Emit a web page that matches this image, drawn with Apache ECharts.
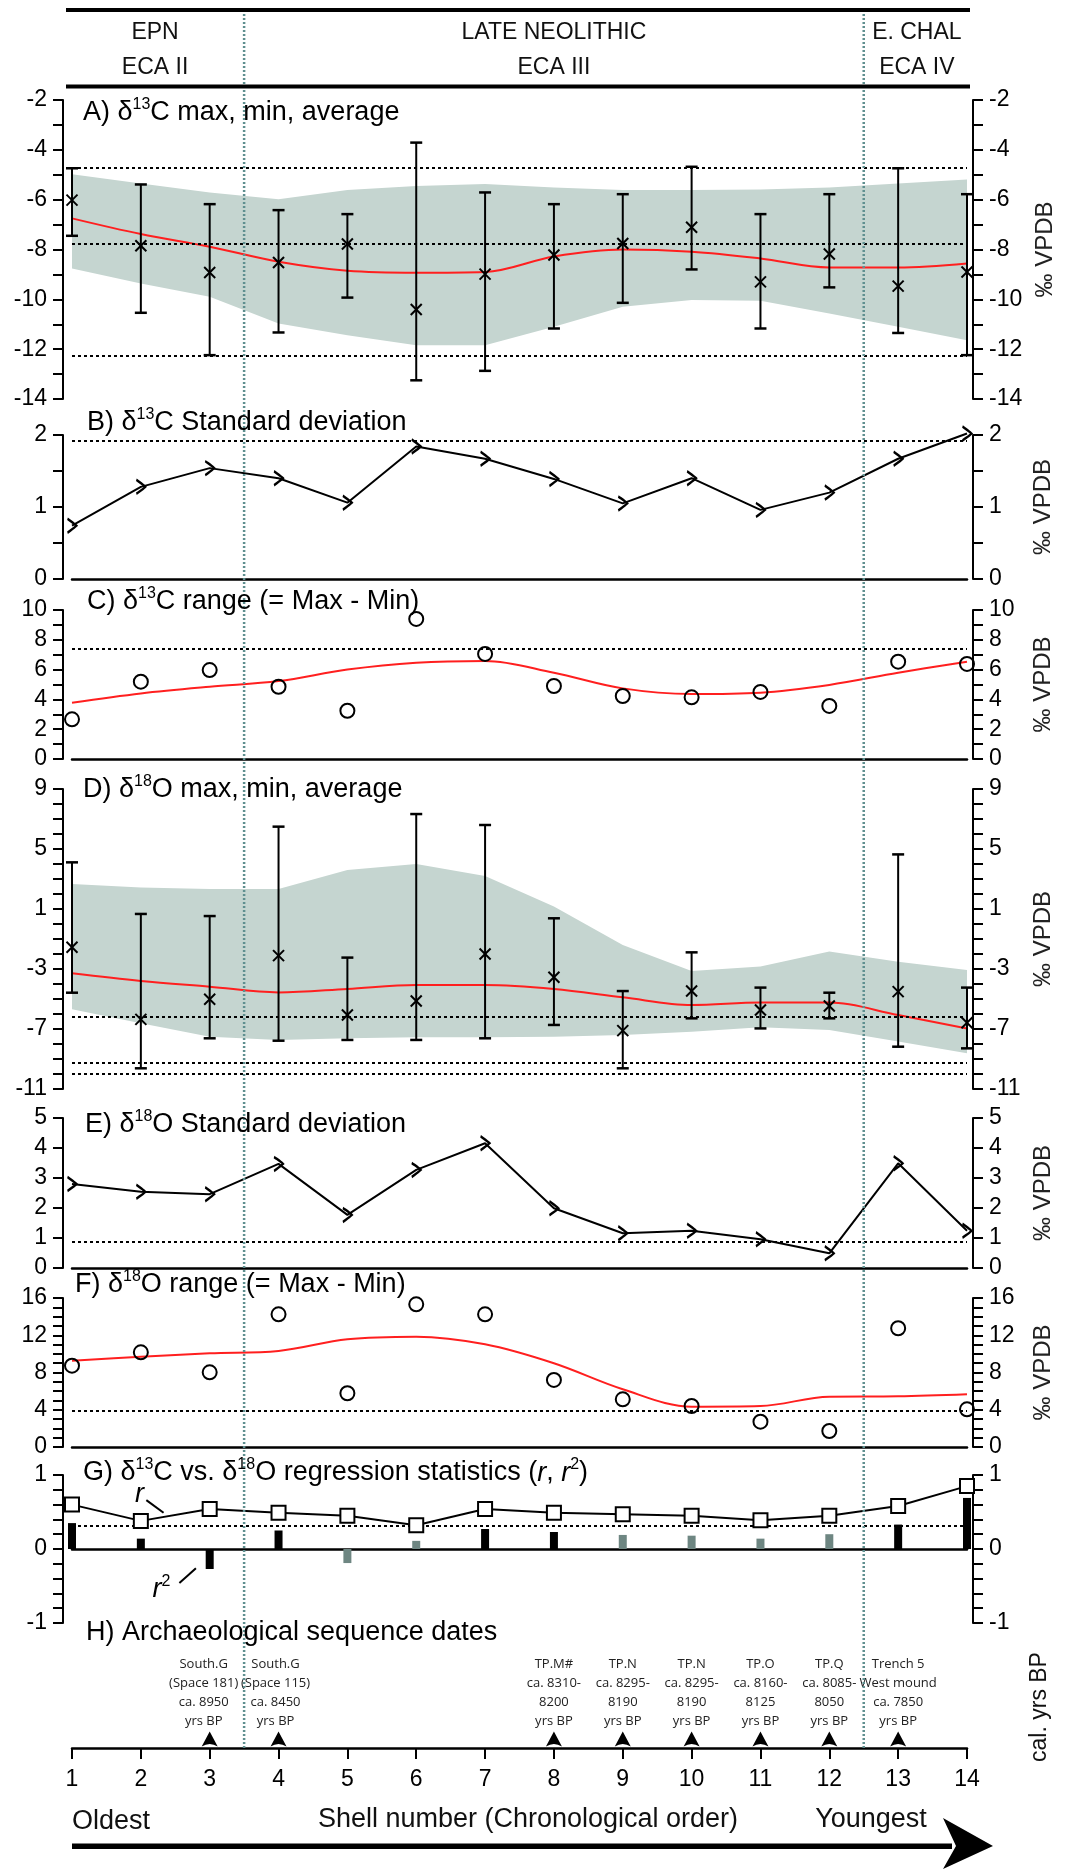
<!DOCTYPE html>
<html>
<head>
<meta charset="utf-8">
<script src="https://cdn.jsdelivr.net/npm/echarts@6/dist/echarts.min.js"></script>
<style>
  html, body { margin: 0; padding: 0; background: #fff; }
  #chart { width: 1067px; height: 1870px; }
</style>
</head>
<body>
<div id="chart"></div>
<script>
// shell numbers, oldest to youngest
var shells = [1, 2, 3, 4, 5, 6, 7, 8, 9, 10, 11, 12, 13, 14];

// A) d13C max / min / average
var c13Max = [-4.74, -5.39, -6.18, -6.42, -6.58, -3.71, -5.71, -6.18, -5.78, -4.68, -6.58, -5.78, -4.74, -5.78];
var c13Min = [-7.45, -10.54, -12.24, -11.33, -9.93, -13.25, -12.87, -11.17, -10.14, -8.80, -11.17, -9.52, -11.35, -12.24];
var c13Mean = [-6.02, -7.85, -8.92, -8.52, -7.78, -10.41, -8.99, -8.22, -7.76, -7.11, -9.30, -8.18, -9.47, -8.90];
var c13Trend = [-6.75, -7.38, -7.89, -8.49, -8.85, -8.93, -8.90, -8.28, -8.00, -8.09, -8.36, -8.72, -8.72, -8.56];
var c13BandHi = [-4.98, -5.35, -5.71, -5.98, -5.61, -5.45, -5.37, -5.51, -5.61, -5.61, -5.59, -5.51, -5.35, -5.19];
var c13BandLo = [-8.76, -9.36, -9.90, -10.97, -11.44, -11.84, -11.84, -11.10, -10.30, -10.03, -10.06, -10.57, -11.10, -11.64];
var c13Ref = [-4.72, -7.77, -12.26];

// B) d13C standard deviation
var c13Sd = [0.74, 1.28, 1.54, 1.40, 1.06, 1.84, 1.67, 1.39, 1.05, 1.40, 0.96, 1.20, 1.67, 2.02];
var c13SdRef = [1.92];

// C) d13C range
var c13Range = [2.66, 5.19, 5.97, 4.85, 3.24, 9.40, 7.05, 4.90, 4.23, 4.14, 4.50, 3.56, 6.53, 6.38];
var c13RangeTrend = [3.78, 4.40, 4.85, 5.23, 6.00, 6.46, 6.58, 5.79, 4.74, 4.36, 4.45, 4.97, 5.79, 6.53];
var c13RangeRef = [7.38];

// D) d18O max / min / average
var o18Max = [4.11, 0.67, 0.53, 6.49, -2.24, 7.33, 6.60, 0.38, -4.47, -1.89, -4.24, -4.58, 4.64, -4.24];
var o18Min = [-4.58, -9.62, -7.62, -7.78, -7.73, -7.73, -7.62, -6.73, -9.62, -6.29, -6.96, -6.29, -8.18, -8.29];
var o18Mean = [-1.55, -6.36, -5.02, -2.11, -6.07, -5.13, -2.00, -3.55, -7.11, -4.47, -5.73, -5.47, -4.51, -6.58];
var o18Trend = [-3.29, -3.80, -4.18, -4.56, -4.33, -4.07, -4.07, -4.33, -4.89, -5.40, -5.24, -5.24, -6.07, -6.96];
var o18BandHi = [2.67, 2.44, 2.33, 2.33, 3.60, 4.00, 3.20, 1.16, -1.40, -3.13, -2.84, -1.84, -2.51, -3.07];
var o18BandLo = [-5.69, -6.62, -7.51, -7.73, -7.62, -7.55, -7.55, -7.51, -7.40, -7.18, -6.89, -7.07, -7.84, -8.62];
var o18Ref = [-6.18, -9.24, -10.0];

// E) d18O standard deviation
var o18Sd = [2.80, 2.54, 2.46, 3.47, 1.77, 3.27, 4.16, 1.99, 1.16, 1.24, 0.96, 0.49, 3.49, 1.24];
var o18SdRef = [0.87];

// F) d18O range
var o18Range = [8.73, 10.17, 8.02, 14.25, 5.77, 15.32, 14.25, 7.20, 5.12, 4.40, 2.72, 1.72, 12.75, 4.05];
var o18RangeTrend = [9.27, 9.70, 10.06, 10.31, 11.57, 11.85, 11.03, 8.99, 6.20, 4.33, 4.40, 5.40, 5.44, 5.66];
var o18RangeRef = [3.9];

// G) regression r and r2 (1 = significant, black bar)
var regR = [0.60, 0.38, 0.54, 0.49, 0.45, 0.32, 0.54, 0.49, 0.47, 0.45, 0.39, 0.45, 0.58, 0.85];
var regR2 = [0.35, 0.14, -0.27, 0.25, -0.19, 0.11, 0.27, 0.23, 0.19, 0.18, 0.14, 0.20, 0.33, 0.69];
var regSig = [1, 1, 1, 1, 0, 0, 1, 1, 0, 0, 0, 0, 1, 1];
var regRef = [0.32];

// H) archaeological dates
var dateShells = [3, 4, 8, 9, 10, 11, 12, 13];
var dateLabels = [
  ['South.G', '(Space 181)', 'ca. 8950', 'yrs BP'],
  ['South.G', '(Space 115)', 'ca. 8450', 'yrs BP'],
  ['TP.M#', 'ca. 8310-', '8200', 'yrs BP'],
  ['TP.N', 'ca. 8295-', '8190', 'yrs BP'],
  ['TP.N', 'ca. 8295-', '8190', 'yrs BP'],
  ['TP.O', 'ca. 8160-', '8125', 'yrs BP'],
  ['TP.Q', 'ca. 8085-', '8050', 'yrs BP'],
  ['Trench 5', 'West mound', 'ca. 7850', 'yrs BP']
];

// periods
var periodNames = ['EPN', 'LATE NEOLITHIC', 'E. CHAL'];
var periodEca = ['ECA II', 'ECA III', 'ECA IV'];
var periodBreaks = [3.5, 12.5];

var FONT = "'Liberation Sans', Arial, sans-serif";
var BAND = '#c5d5d0';
var RED = '#ff1f1f';
var DIV = '#5f8f8f';

var panels = [
  { top: 100, height: 299, min: -14, max: -2, interval: 2, minor: 2, vpdb: true, line: false },
  { top: 435, height: 144, min: 0, max: 2, interval: 1, minor: 2, vpdb: true, line: true },
  { top: 610, height: 149, min: 0, max: 10, interval: 2, minor: 2, vpdb: true, line: true },
  { top: 789, height: 300, min: -11, max: 9, interval: 4, minor: 4, vpdb: true, line: false },
  { top: 1118, height: 150, min: 0, max: 5, interval: 1, minor: 0, vpdb: true, line: true },
  { top: 1298, height: 149, min: 0, max: 16, interval: 4, minor: 4, vpdb: true, line: true },
  { top: 1475, height: 148, min: -1, max: 1, interval: 1, minor: 5, vpdb: false, line: true },
  { top: 1660, height: 88, min: 0, max: 1, hidden: true }
];

function pairs(ys) {
  return shells.map(function (s, k) { return [s, ys[k]]; });
}

function refLines(vals) {
  return {
    silent: true,
    symbol: 'none',
    label: { show: false },
    lineStyle: { color: '#000', type: [3, 3], width: 2 },
    data: vals.map(function (v) { return { yAxis: v }; })
  };
}

var grid = [], xAxis = [], yAxis = [];
panels.forEach(function (p, i) {
  grid.push({ left: 72, width: 895, top: p.top, height: p.height });
  var isH = i === 7;
  xAxis.push({
    gridIndex: i, type: 'value', min: 1, max: 14, interval: 1,
    show: isH || p.line,
    axisLine: { show: true, onZero: i === 6, lineStyle: { color: '#000', width: 2.5 } },
    axisTick: { show: isH, length: 11, lineStyle: { color: '#000', width: 2 } },
    axisLabel: { show: isH, margin: 20, fontSize: 23, fontFamily: FONT, color: '#000' },
    splitLine: { show: false }
  });
  ['left', 'right'].forEach(function (side) {
    yAxis.push({
      gridIndex: i, type: 'value', position: side, show: !p.hidden,
      offset: side === 'left' ? 9 : 6,
      min: p.min, max: p.max, interval: p.interval,
      axisLine: { show: true, onZero: false, lineStyle: { color: '#000', width: 2 } },
      axisTick: { show: true, length: 10, lineStyle: { color: '#000', width: 2 } },
      minorTick: { show: p.minor > 0, splitNumber: p.minor || 5, length: 10, lineStyle: { color: '#000', width: 2 } },
      axisLabel: { margin: 16, fontSize: 23, fontFamily: FONT, color: '#000' },
      splitLine: { show: false },
      minorSplitLine: { show: false },
      name: side === 'right' && p.vpdb ? '‰ VPDB' : '',
      nameLocation: 'middle', nameRotate: 90, nameGap: 58,
      nameTextStyle: { fontSize: 24, fontFamily: FONT, color: '#222' }
    });
  });
});

function bandSeries(i, hi, lo) {
  return {
    type: 'custom', xAxisIndex: i, yAxisIndex: 2 * i, z: 1, silent: true,
    data: shells.map(function (s, k) { return [s, lo[k], hi[k]]; }),
    encode: { x: 0, y: [1, 2] },
    renderItem: function (params, api) {
      if (params.dataIndex !== 0) return null;
      var pts = [];
      for (var k = 0; k < shells.length; k++) pts.push(api.coord([shells[k], hi[k]]));
      for (var j = shells.length - 1; j >= 0; j--) pts.push(api.coord([shells[j], lo[j]]));
      return { type: 'polygon', shape: { points: pts }, style: { fill: BAND } };
    }
  };
}

function errorSeries(i, mx, mn, mean) {
  return {
    type: 'custom', xAxisIndex: i, yAxisIndex: 2 * i, z: 5, silent: true,
    data: shells.map(function (s, k) { return [s, mn[k], mx[k], mean[k]]; }),
    encode: { x: 0, y: [1, 2, 3] },
    renderItem: function (params, api) {
      var x = api.value(0);
      var t = api.coord([x, api.value(2)]);
      var b = api.coord([x, api.value(1)]);
      var m = api.coord([x, api.value(3)]);
      var st = { stroke: '#000', lineWidth: 2 };
      var cap = { stroke: '#000', lineWidth: 2.5 };
      var c = 6, r = 5.5;
      return {
        type: 'group',
        children: [
          { type: 'line', shape: { x1: t[0], y1: t[1], x2: b[0], y2: b[1] }, style: st },
          { type: 'line', shape: { x1: t[0] - c, y1: t[1], x2: t[0] + c, y2: t[1] }, style: cap },
          { type: 'line', shape: { x1: b[0] - c, y1: b[1], x2: b[0] + c, y2: b[1] }, style: cap },
          { type: 'line', shape: { x1: m[0] - r, y1: m[1] - r, x2: m[0] + r, y2: m[1] + r }, style: st },
          { type: 'line', shape: { x1: m[0] - r, y1: m[1] + r, x2: m[0] + r, y2: m[1] - r }, style: st }
        ]
      };
    }
  };
}

function trendSeries(i, ys, refs) {
  return {
    type: 'line', xAxisIndex: i, yAxisIndex: 2 * i, data: pairs(ys), z: 3,
    smooth: 0.35, symbol: 'none', clip: false, silent: true,
    lineStyle: { color: RED, width: 2 },
    markLine: refLines(refs)
  };
}

var chevron = 'path://M0,0 C4,3 7,5 9,7 C7,9 4,11 0,14';
function sdSeries(i, ys, refs) {
  return {
    type: 'line', xAxisIndex: i, yAxisIndex: 2 * i, data: pairs(ys), z: 4,
    symbol: chevron, symbolSize: [9, 14], showAllSymbol: true, clip: false, silent: true,
    lineStyle: { color: '#000', width: 2 },
    itemStyle: { color: 'rgba(0,0,0,0)', borderColor: '#000', borderWidth: 2.2, opacity: 1 },
    markLine: refLines(refs)
  };
}

function circleSeries(i, ys) {
  return {
    type: 'scatter', xAxisIndex: i, yAxisIndex: 2 * i, data: pairs(ys), z: 4,
    symbol: 'circle', symbolSize: 14, clip: false, silent: true,
    itemStyle: { color: 'rgba(0,0,0,0)', borderColor: '#000', borderWidth: 2, opacity: 1 }
  };
}

var stealth = 'path://M8,0 L16,15 Q8,10 0,15 Z';
// nudge the two crowded South.G labels apart a little
var dateLabelShift = { 0: [-6, 0], 1: [-3, 0] };

var series = [
  bandSeries(0, c13BandHi, c13BandLo),
  trendSeries(0, c13Trend, c13Ref),
  errorSeries(0, c13Max, c13Min, c13Mean),

  sdSeries(1, c13Sd, c13SdRef),

  trendSeries(2, c13RangeTrend, c13RangeRef),
  circleSeries(2, c13Range),

  bandSeries(3, o18BandHi, o18BandLo),
  trendSeries(3, o18Trend, o18Ref),
  errorSeries(3, o18Max, o18Min, o18Mean),

  sdSeries(4, o18Sd, o18SdRef),

  trendSeries(5, o18RangeTrend, o18RangeRef),
  circleSeries(5, o18Range),

  {
    type: 'bar', xAxisIndex: 6, yAxisIndex: 12, barWidth: 8, clip: false, silent: true,
    data: shells.map(function (s, k) {
      return { value: [s, regR2[k]], itemStyle: { color: regSig[k] ? '#000' : '#6e8682' } };
    })
  },
  {
    type: 'line', xAxisIndex: 6, yAxisIndex: 12, data: pairs(regR), z: 5,
    symbol: 'rect', symbolSize: 14, showAllSymbol: true, clip: false, silent: true,
    lineStyle: { color: '#000', width: 2 },
    itemStyle: { color: '#fff', borderColor: '#000', borderWidth: 2, opacity: 1 },
    markLine: refLines(regRef)
  },

  {
    type: 'scatter', xAxisIndex: 7, yAxisIndex: 14, clip: false, silent: true,
    data: dateShells.map(function (s, k) {
      var item = { value: [s, 0] };
      if (dateLabelShift[k]) item.label = { offset: dateLabelShift[k] };
      return item;
    }),
    symbol: stealth, symbolSize: [16, 15], symbolOffset: [0, -9],
    itemStyle: { color: '#000', opacity: 1 },
    label: {
      show: true, position: 'top', distance: 1,
      formatter: function (p) { return dateLabels[p.dataIndex].join('\n'); },
      fontFamily: "'Open Sans', 'Noto Sans', sans-serif", fontSize: 13, lineHeight: 19, color: '#222'
    }
  }
];

var chart = echarts.init(document.getElementById('chart'));
chart.setOption({
  animation: false,
  backgroundColor: '#fff',
  textStyle: { fontFamily: FONT },
  grid: grid,
  xAxis: xAxis,
  yAxis: yAxis,
  series: series
});

function px(g, x, y) { return chart.convertToPixel({ gridIndex: g }, [x, y]); }

var rich = {
  n: { fontSize: 27, fontFamily: FONT, fill: '#000', lineHeight: 32 },
  s: { fontSize: 16, fontFamily: FONT, fill: '#000', lineHeight: 32, verticalAlign: 'top' },
  i: { fontSize: 27, fontFamily: FONT, fill: '#000', lineHeight: 32, fontStyle: 'italic' }
};
function title(x, y, text) {
  return { type: 'text', x: x, y: y, z: 20, style: { text: text, rich: rich, align: 'left', verticalAlign: 'middle' } };
}
function plain(x, y, text, size, align, rot) {
  return {
    type: 'text', x: x, y: y, z: 20, rotation: rot || 0,
    style: { text: text, fontSize: size, fontFamily: FONT, fill: '#111', align: align || 'center', verticalAlign: 'middle' }
  };
}

var g = [];
var left = 66, right = 970;
g.push({ type: 'rect', z: 20, shape: { x: left, y: 8, width: right - left, height: 4 }, style: { fill: '#000' } });
g.push({ type: 'rect', z: 20, shape: { x: left, y: 84.5, width: right - left, height: 4 }, style: { fill: '#000' } });

var hAxisY = px(7, 1, 0)[1];
var edges = [left].concat(periodBreaks.map(function (b) { return px(0, b, -2)[0]; })).concat([right]);
periodNames.forEach(function (name, k) {
  var cx = (edges[k] + edges[k + 1]) / 2;
  g.push(plain(cx, 33, name, 23));
  g.push(plain(cx, 68, periodEca[k], 23));
});
periodBreaks.forEach(function (b) {
  var x = px(0, b, -2)[0];
  g.push({
    type: 'line', z: 15, shape: { x1: x, y1: 10, x2: x, y2: hAxisY },
    style: { stroke: DIV, lineWidth: 2.5, lineDash: [2, 2] }
  });
});

g.push(title(83, 113, '{n|A) δ}{s|13}{n|C max, min, average}'));
g.push(title(87, 423, '{n|B) δ}{s|13}{n|C Standard deviation}'));
g.push(title(87, 602, '{n|C) δ}{s|13}{n|C range (= Max - Min)}'));
g.push(title(83, 790, '{n|D) δ}{s|18}{n|O max, min, average}'));
g.push(title(85, 1125, '{n|E) δ}{s|18}{n|O Standard deviation}'));
g.push(title(75, 1285, '{n|F) δ}{s|18}{n|O range (= Max - Min)}'));
g.push(title(83, 1473, '{n|G) δ}{s|13}{n|C vs. δ}{s|18}{n|O regression statistics (}{i|r}{n|, }{i|r}{s|2}{n|)}'));
g.push(title(86, 1633, '{n|H) Archaeological sequence dates}'));

// r and r2 annotations in panel G
var rText = px(6, 1.98, 0.73), rA = px(6, 2.08, 0.66), rB = px(6, 2.33, 0.49);
g.push({ type: 'text', x: rText[0], y: rText[1], z: 20, style: { text: '{i|r}', rich: rich, align: 'center', verticalAlign: 'middle' } });
g.push({ type: 'line', z: 20, shape: { x1: rA[0], y1: rA[1], x2: rB[0], y2: rB[1] }, style: { stroke: '#000', lineWidth: 2 } });
var r2Text = px(6, 2.3, -0.55), r2A = px(6, 2.56, -0.46), r2B = px(6, 2.8, -0.26);
g.push({ type: 'text', x: r2Text[0], y: r2Text[1], z: 20, style: { text: '{i|r}{s|2}', rich: rich, align: 'center', verticalAlign: 'middle' } });
g.push({ type: 'line', z: 20, shape: { x1: r2A[0], y1: r2A[1], x2: r2B[0], y2: r2B[1] }, style: { stroke: '#000', lineWidth: 2 } });

g.push(plain(1040, 1707, 'cal. yrs BP', 23, 'center', Math.PI / 2));

// bottom direction arrow
var x1 = px(7, 1, 0)[0];
g.push(plain(x1, 1822, 'Oldest', 27, 'left'));
g.push(plain(528, 1820, 'Shell number (Chronological order)', 27));
g.push(plain(871, 1820, 'Youngest', 27));
g.push({ type: 'rect', z: 20, shape: { x: x1, y: 1843.5, width: 880, height: 5.5 }, style: { fill: '#000' } });
g.push({ type: 'polygon', z: 20, shape: { points: [[943, 1818], [993, 1846], [943, 1869], [956, 1846]] }, style: { fill: '#000' } });

chart.setOption({ graphic: g });
</script>
</body>
</html>
